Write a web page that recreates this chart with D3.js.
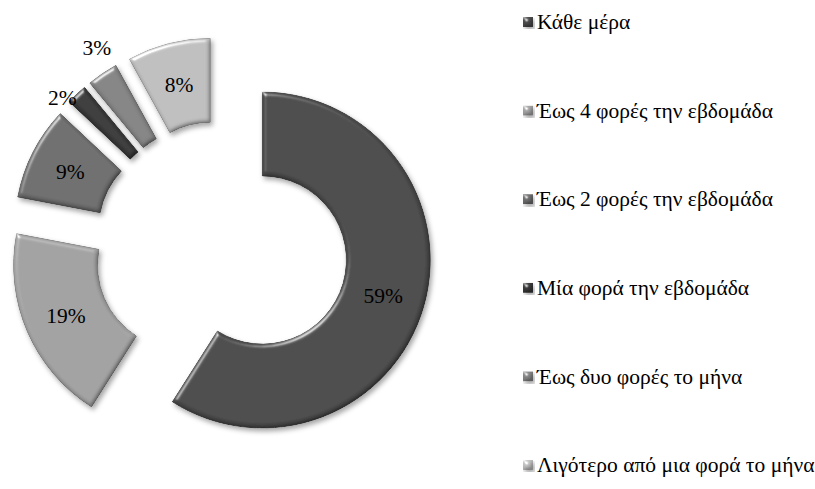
<!DOCTYPE html>
<html>
<head>
<meta charset="utf-8">
<script src="https://cdn.jsdelivr.net/npm/d3@7"></script>
<style>
  html, body { margin: 0; padding: 0; background: #fff; }
  svg { display: block; }
  text { font-family: "Liberation Serif", "Times New Roman", "DejaVu Serif", serif; fill: #000; }
</style>
</head>
<body>
<svg id="chart" width="815" height="489"></svg>
<script>
// Frequency categories (legend order = slice order, clockwise from 12 o'clock)
const categories = [
  "Κάθε μέρα",
  "Έως 4 φορές την εβδομάδα",
  "Έως 2 φορές την εβδομάδα",
  "Μία φορά την εβδομάδα",
  "Έως δυο φορές το μήνα",
  "Λιγότερο από μια φορά το μήνα"
];
// Share of respondents, %
const values = [59, 19, 9, 2, 3, 8];
// Slice fills
const fills = ["#4a4a4a", "#a3a3a3", "#6e6e6e", "#393939", "#858585", "#c0c0c0"];

const W = 815, H = 489;
const cx = 221, cy = 248;
const outerR = 168, innerR = 84;
const explode = 43;

const svg = d3.select("#chart");
const defs = svg.append("defs");

// Soft bevel + drop shadow for the slices
const f = defs.append("filter").attr("id", "bevel")
  .attr("x", "-20%").attr("y", "-20%").attr("width", "140%").attr("height", "140%");
f.append("feGaussianBlur").attr("in", "SourceAlpha").attr("stdDeviation", 2.2).attr("result", "ab");
const spec = f.append("feSpecularLighting").attr("in", "ab")
  .attr("surfaceScale", 2.5).attr("specularConstant", 0.6).attr("specularExponent", 40)
  .attr("lighting-color", "#ffffff").attr("result", "spec");
spec.append("feDistantLight").attr("azimuth", 235).attr("elevation", 40);
f.append("feComposite").attr("in", "spec").attr("in2", "SourceAlpha").attr("operator", "in").attr("result", "specIn");
const diff = f.append("feDiffuseLighting").attr("in", "ab")
  .attr("surfaceScale", 2.5).attr("diffuseConstant", 1).attr("lighting-color", "#ffffff").attr("result", "diff");
diff.append("feDistantLight").attr("azimuth", 235).attr("elevation", 60);
f.append("feComposite").attr("in", "SourceGraphic").attr("in2", "diff")
  .attr("operator", "arithmetic").attr("k1", 1.13).attr("k2", 0).attr("k3", 0).attr("k4", 0).attr("result", "shaded");
f.append("feComposite").attr("in", "shaded").attr("in2", "SourceAlpha").attr("operator", "in").attr("result", "shadedIn");
f.append("feComposite").attr("in", "shadedIn").attr("in2", "specIn")
  .attr("operator", "arithmetic").attr("k1", 0).attr("k2", 1).attr("k3", 1).attr("k4", 0).attr("result", "lit");
f.append("feGaussianBlur").attr("in", "SourceAlpha").attr("stdDeviation", 2.5).attr("result", "sb");
f.append("feOffset").attr("in", "sb").attr("dx", 2).attr("dy", 3).attr("result", "so");
f.append("feFlood").attr("flood-color", "#000").attr("flood-opacity", 0.35).attr("result", "sc");
f.append("feComposite").attr("in", "sc").attr("in2", "so").attr("operator", "in").attr("result", "shadow");
const m = f.append("feMerge");
m.append("feMergeNode").attr("in", "shadow");
m.append("feMergeNode").attr("in", "lit");

svg.append("rect").attr("width", W).attr("height", H).attr("fill", "#fff");

const color = d3.scaleOrdinal().domain(categories).range(fills);

const pie = d3.pie().sort(null).value(d => d.value).startAngle(0).endAngle(2 * Math.PI);
const arcs = pie(categories.map((c, i) => ({ cat: c, value: values[i] })));

const arc = d3.arc().innerRadius(innerR).outerRadius(outerR);
const midArc = d3.arc().innerRadius((innerR + outerR) / 2).outerRadius((innerR + outerR) / 2);

// Small slices get their labels placed just outside the ring
const outsideLabel = { 2: { r: 176, turn: -4 }, 3: { r: 193, turn: 3 } };

const g = svg.append("g").attr("transform", `translate(${cx},${cy})`);

const slice = g.selectAll("g.slice").data(arcs).join("g")
  .attr("class", "slice")
  .attr("transform", d => {
    const a = (d.startAngle + d.endAngle) / 2;
    return `translate(${explode * Math.sin(a)},${-explode * Math.cos(a)})`;
  });

slice.append("path")
  .attr("d", arc)
  .attr("fill", d => color(d.data.cat))
  .attr("stroke", d => d3.color(color(d.data.cat)).darker(0.6))
  .attr("stroke-width", 0.8)
  .attr("filter", "url(#bevel)");

slice.append("text")
  .attr("text-anchor", "middle")
  .attr("dy", "0.35em")
  .style("font-size", "21.5px")
  .attr("transform", d => {
    const o = outsideLabel[d.data.value];
    if (o) {
      const a = (d.startAngle + d.endAngle) / 2 + o.turn * Math.PI / 180;
      return `translate(${o.r * Math.sin(a)},${-o.r * Math.cos(a)})`;
    }
    const [x, y] = midArc.centroid(d);
    return `translate(${x},${y})`;
  })
  .text(d => d.data.value + "%");

// Legend
const ly = d3.scalePoint().domain(categories).range([22, 465]);
const legend = svg.append("g").attr("class", "legend");
const item = legend.selectAll("g").data(categories).join("g")
  .attr("transform", c => `translate(523,${ly(c)})`);
item.append("rect")
  .attr("x", 0).attr("y", -5).attr("width", 10).attr("height", 10)
  .attr("fill", c => color(c))
  .attr("filter", "url(#bevel)");
item.append("text")
  .attr("x", 14).attr("dy", "0.33em")
  .style("font-size", "21.5px")
  .text(c => c);
</script>
</body>
</html>
